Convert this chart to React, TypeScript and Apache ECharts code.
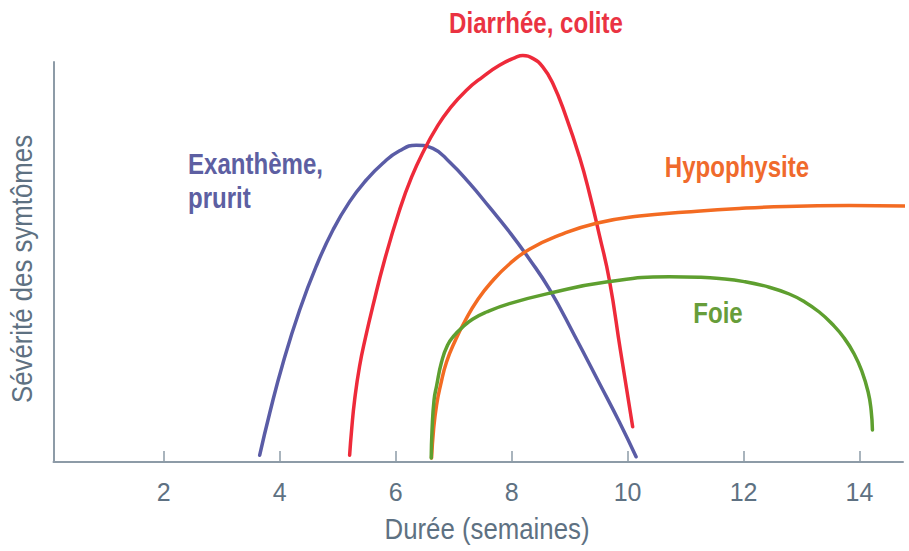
import React, { useEffect, useRef } from "react";
import * as echarts from "echarts";

const tickValues = [2, 4, 6, 8, 10, 12, 14];

const exanthemePrurit: [number, number][] = [
  [3.656, 1.7], [3.828, 12.2], [4.057, 24.7], [4.345, 38], [4.633, 49], [4.919, 58],
  [5.207, 65.1], [5.494, 70.5], [5.78, 74.7], [6.068, 77.8], [6.356, 79.2], [6.642, 78.4],
  [6.93, 75], [7.273, 69.7], [7.618, 63.7], [7.963, 57.5], [8.308, 50.7], [8.652, 43.2],
  [9.083, 31.7], [9.514, 19.7], [9.859, 10], [10.147, 1.3],
];

const diarrheeColite: [number, number][] = [
  [5.207, 1.7], [5.241, 8], [5.293, 15.5], [5.379, 24], [5.482, 31.2], [5.603, 38.7],
  [5.81, 50.5], [6.068, 63], [6.275, 71.2], [6.499, 78.2], [6.706, 83.6], [6.93, 88.3],
  [7.217, 92.9], [7.503, 96.3], [7.791, 99.2], [8.079, 101.2], [8.193, 101.6], [8.365, 100.9],
  [8.537, 98.8], [8.71, 94.7], [8.94, 86.3], [9.17, 76.3], [9.342, 67.2], [9.514, 56.7],
  [9.686, 45.5], [9.876, 28], [10.088, 8.8],
];

const hypophysite: [number, number][] = [
  [6.62, 1], [6.654, 8], [6.706, 14.2], [6.775, 19.2], [6.878, 25], [7.033, 30.5],
  [7.205, 35.5], [7.412, 40.5], [7.653, 45], [7.963, 49.5], [8.308, 53.2], [8.825, 56.7],
  [9.462, 59.7], [10.203, 61.5], [11.013, 62.5], [11.926, 63.4], [12.736, 63.9], [13.82, 64.1],
  [14.84, 64],
];

const foie: [number, number][] = [
  [6.614, 1], [6.628, 8], [6.663, 15.5], [6.706, 19], [6.792, 25], [6.895, 29.2],
  [7.016, 31.7], [7.154, 33.7], [7.326, 35.7], [7.567, 37.5], [7.963, 39.6], [8.652, 42.2],
  [9.63, 45], [10.72, 46.3], [11.237, 46.2], [11.582, 45.9], [12.012, 45.1], [12.443, 43.7],
  [12.788, 42], [13.046, 40.1], [13.305, 37.5], [13.529, 34.5], [13.735, 31], [13.908, 27],
  [14.045, 22.5], [14.149, 17.5], [14.2, 13], [14.223, 8],
];

const FONT = "'Liberation Sans', Arial, sans-serif";
const AXIS_COLOR = "#8d9ba7";
const TEXT_COLOR = "#5e7182";
const LABEL_SCALE = 0.83;
const TITLE_SCALE = 0.86;

export default function App() {
  const ref = useRef<HTMLDivElement>(null);

  useEffect(() => {
    if (!ref.current) return;
    const chart = echarts.init(ref.current, null, { renderer: "svg" });
    const line = (name: string, data: [number, number][], color: string) => ({
      type: "line",
      name,
      data,
      smooth: 0.5,
      showSymbol: false,
      clip: false,
      lineStyle: { color, width: 3.5, cap: "round", join: "round" },
    });
    const label = (text: string, x: number, y: number, fill: string, align: string) => ({
      type: "text",
      x,
      y,
      scaleX: LABEL_SCALE,
      style: { text, fill, font: `bold 29px ${FONT}`, align, verticalAlign: "middle" },
    });
    chart.setOption({
      animation: false,
      backgroundColor: "#ffffff",
      grid: { left: 53.5, right: 6, top: 62, bottom: 89, containLabel: false },
      xAxis: {
        type: "value",
        min: 0.1,
        max: 14.75,
        axisLine: { show: true, lineStyle: { color: AXIS_COLOR, width: 2 } },
        axisTick: {
          show: true,
          inside: true,
          length: 11,
          customValues: tickValues,
          lineStyle: { color: AXIS_COLOR, width: 1.5 },
        },
        axisLabel: {
          customValues: tickValues,
          margin: 17,
          fontFamily: FONT,
          fontSize: 25,
          color: TEXT_COLOR,
        },
        splitLine: { show: false },
      },
      yAxis: {
        type: "value",
        min: 0,
        max: 100,
        axisLine: { show: true, lineStyle: { color: AXIS_COLOR, width: 2 } },
        axisTick: { show: false },
        axisLabel: { show: false },
        splitLine: { show: false },
      },
      series: [
        line("Exanthème, prurit", exanthemePrurit, "#5a5ca6"),
        line("Diarrhée, colite", diarrheeColite, "#ee2a3a"),
        line("Hypophysite", hypophysite, "#f36b22"),
        line("Foie", foie, "#5e9f2f"),
      ],
      graphic: [
        label("Diarrhée, colite", 536, 23, "#ea3342", "center"),
        label("Exanthème,", 188, 164, "#5d5fa2", "left"),
        label("prurit", 188, 198, "#5d5fa2", "left"),
        label("Hypophysite", 737, 167.5, "#f06a2c", "center"),
        label("Foie", 718, 313, "#679d3a", "center"),
        {
          type: "text", x: 487, y: 529, scaleX: TITLE_SCALE,
          style: { text: "Durée (semaines)", fill: TEXT_COLOR, font: `30px ${FONT}`, align: "center", verticalAlign: "middle" },
        },
        {
          type: "text", x: 22, y: 269, rotation: Math.PI / 2, scaleX: TITLE_SCALE,
          style: { text: "Sévérité des symtômes", fill: TEXT_COLOR, font: `30px ${FONT}`, align: "center", verticalAlign: "middle" },
        },
      ],
    });
    return () => chart.dispose();
  }, []);

  return (
    <div
      ref={ref}
      style={{ position: "fixed", left: 0, top: 0, width: 909, height: 551 }}
    />
  );
}
